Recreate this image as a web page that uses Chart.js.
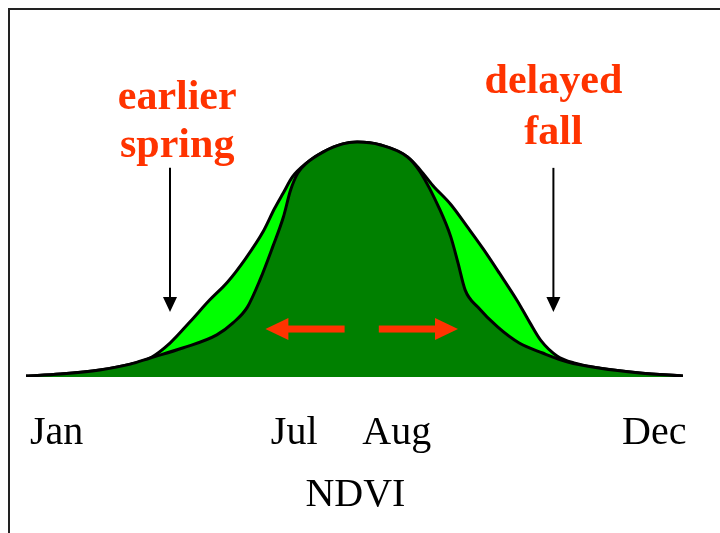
<!DOCTYPE html>
<html>
<head>
<meta charset="utf-8">
<script src="https://cdn.jsdelivr.net/npm/chart.js@4"></script>
<style>
  body { margin: 0; background: #fff; }
  #wrap { width: 720px; height: 533px; position: relative; }
</style>
</head>
<body>
<div id="wrap"><canvas id="myChart"></canvas></div>
<script>
// x = day of year, y = NDVI (schematic)
const longDays = [0, 19, 41, 58, 69, 80, 91, 102, 112, 122, 132, 138, 143, 148, 156, 165, 176, 184, 197, 212, 219, 226, 236, 245, 254, 263, 273, 280, 286, 295, 305, 319, 341, 365];
const longNdvi = [0.003, 0.010, 0.024, 0.044, 0.065, 0.116, 0.188, 0.263, 0.325, 0.405, 0.500, 0.575, 0.630, 0.684, 0.732, 0.769, 0.797, 0.803, 0.793, 0.752, 0.708, 0.655, 0.590, 0.515, 0.438, 0.355, 0.260, 0.185, 0.125, 0.072, 0.047, 0.030, 0.014, 0.003];

const shortDays = [0, 19, 41, 58, 69, 87, 106, 115, 123, 130, 137, 143, 147, 151, 156, 165, 176, 184, 197, 212, 219, 230, 236, 240, 244, 251, 262, 274, 287, 301, 319, 341, 365];
const shortNdvi = [0.003, 0.010, 0.024, 0.044, 0.065, 0.099, 0.144, 0.185, 0.239, 0.332, 0.444, 0.547, 0.639, 0.697, 0.732, 0.769, 0.797, 0.803, 0.793, 0.752, 0.701, 0.571, 0.479, 0.390, 0.297, 0.239, 0.171, 0.116, 0.082, 0.051, 0.030, 0.014, 0.003];

const months = ['Jan', 'Jul', 'Aug', 'Dec'];
const monthDays = [17, 149, 206, 349];

const red = '#ff3300';

function toPoints(xs, ys) {
    return xs.map((x, i) => ({ x: x, y: ys[i] }));
}

// Ejes, textos y flechas
const extras = {
    id: 'extras',
    afterDatasetsDraw(chart) {
        const ctx = chart.ctx;
        const sx = chart.scales.x;
        const sy = chart.scales.y;
        const px = v => sx.getPixelForValue(v);
        const py = v => sy.getPixelForValue(v);
        ctx.save();

        // marco
        ctx.strokeStyle = '#222';
        ctx.lineWidth = 2;
        ctx.beginPath();
        ctx.moveTo(9, 533);
        ctx.lineTo(9, 9);
        ctx.lineTo(720, 9);
        ctx.stroke();

        // meses
        ctx.fillStyle = '#000';
        ctx.textAlign = 'center';
        ctx.textBaseline = 'alphabetic';
        ctx.font = '40px "Liberation Serif"';
        months.forEach((m, i) => ctx.fillText(m, px(monthDays[i]), 444));
        ctx.fillText('NDVI', px(183), 506);

        // textos rojos
        ctx.fillStyle = red;
        ctx.font = 'bold 42px "Liberation Serif"';
        ctx.fillText('earlier', px(84), py(0.916));
        ctx.fillText('spring', px(84), py(0.752));
        ctx.fillText('delayed', px(293), py(0.97));
        ctx.fillText('fall', px(293), py(0.795));

        // flechas negras
        function downArrow(day) {
            const x = px(day), y0 = py(0.715), y1 = py(0.222);
            ctx.strokeStyle = '#000';
            ctx.lineWidth = 2;
            ctx.beginPath();
            ctx.moveTo(x, y0);
            ctx.lineTo(x, y1 - 14);
            ctx.stroke();
            ctx.fillStyle = '#000';
            ctx.beginPath();
            ctx.moveTo(x - 7, y1 - 15);
            ctx.lineTo(x + 7, y1 - 15);
            ctx.lineTo(x, y1);
            ctx.closePath();
            ctx.fill();
        }
        downArrow(80);
        downArrow(293);

        // flechas rojas
        function sideArrow(fromDay, toDay) {
            const x0 = px(fromDay), x1 = px(toDay), y = py(0.164);
            const dir = Math.sign(x1 - x0);
            ctx.fillStyle = red;
            ctx.fillRect(Math.min(x0, x1 - dir * 22), y - 3.5, Math.abs(x1 - dir * 22 - x0), 7);
            ctx.beginPath();
            ctx.moveTo(x1, y);
            ctx.lineTo(x1 - dir * 23, y - 11);
            ctx.lineTo(x1 - dir * 23, y + 11);
            ctx.closePath();
            ctx.fill();
        }
        sideArrow(177, 133);
        sideArrow(196, 240);

        ctx.restore();
    }
};

const data = {
    datasets: [{
        label: 'short season',
        data: toPoints(shortDays, shortNdvi),
        borderColor: '#000',
        borderWidth: 3,
        backgroundColor: '#008000',
        fill: 'origin',
        pointRadius: 0,
        cubicInterpolationMode: 'monotone',
    },
    {
        label: 'long season',
        data: toPoints(longDays, longNdvi),
        borderColor: '#000',
        borderWidth: 3,
        backgroundColor: '#00ff00',
        fill: 'origin',
        pointRadius: 0,
        cubicInterpolationMode: 'monotone',
    }]
};

const config = {
    type: 'line',
    data: data,
    options: {
        responsive: true,
        maintainAspectRatio: false,
        animation: false,
        layout: {
            padding: { left: 26, right: 37, top: 84.5, bottom: 156 }
        },
        plugins: {
            legend: { display: false },
            tooltip: { enabled: false }
        },
        scales: {
            x: { type: 'linear', min: 0, max: 365, display: false },
            y: { min: 0, max: 1, display: false }
        }
    },
    plugins: [extras]
};

const myChart = new Chart(document.getElementById('myChart'), config);
</script>
</body>
</html>
